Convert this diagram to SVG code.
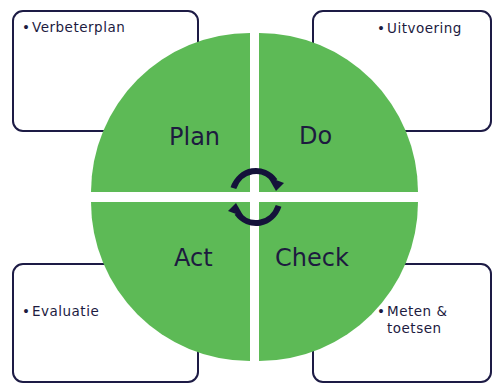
<svg xmlns="http://www.w3.org/2000/svg" width="492" height="383" viewBox="0 0 492 383">
<style>
.box{fill:#fff;stroke:#1d1b45;stroke-width:2}
.q{fill:#5dba56}
.t{font-family:"DejaVu Sans","Liberation Sans",sans-serif;fill:#1d1b3f}
.s{font-size:13.5px;letter-spacing:0.5px}
.b{font-size:24px}
.arc{fill:none;stroke:#14123a;stroke-width:6}
.ah{fill:#14123a}
</style>
<rect width="492" height="383" fill="#fff"/>
<g id="box-plan"><rect class="box" x="13" y="11" width="185" height="120" rx="10"/><text class="t s" y="32"><tspan x="22">•</tspan><tspan x="32">Verbeterplan</tspan></text></g>
<g id="box-do"><rect class="box" x="313" y="11" width="178" height="120" rx="10"/><text class="t s" y="33"><tspan x="377">•</tspan><tspan x="387">Uitvoering</tspan></text></g>
<g id="box-act"><rect class="box" x="13" y="264" width="185" height="118" rx="10"/><text class="t s" y="316"><tspan x="22">•</tspan><tspan x="32">Evaluatie</tspan></text></g>
<g id="box-check"><rect class="box" x="313" y="264" width="178" height="118" rx="10"/><text class="t s" y="316"><tspan x="377">•</tspan><tspan x="387">Meten &amp;</tspan></text><text class="t s" x="387" y="333">toetsen</text></g>
<g id="plan"><path class="q" d="M250,192 L91,192 A159,159 0 0 1 250,33 Z"/><text class="t b" x="169" y="145">Plan</text></g>
<g id="do"><path class="q" d="M259,192 L259,33 A159,159 0 0 1 418,192 Z"/><text class="t b" x="299" y="144">Do</text></g>
<g id="check"><path class="q" d="M259,202 L418,202 A159,159 0 0 1 259,361 Z"/><text class="t b" x="275" y="266" font-size="25">Check</text></g>
<g id="act"><path class="q" d="M250,202 L250,361 A159,159 0 0 1 91,202 Z"/><text class="t b" x="174" y="266">Act</text></g>
<g id="connectors">
<path class="arc" d="M233.4,188.1 A24,26 0 0 1 274.9,181"/>
<polygon class="ah" points="268,177 284,183 276,191"/>
<path class="arc" d="M278.6,205.9 A24,26 0 0 1 237.1,213"/>
<polygon class="ah" points="244,217 228,211 236,203"/>
</g>
</svg>
